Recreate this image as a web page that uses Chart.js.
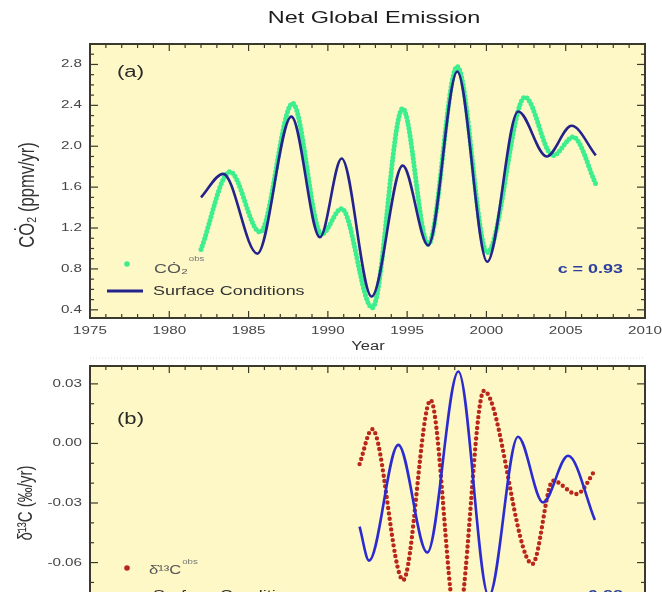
<!DOCTYPE html>
<html>
<head>
<meta charset="utf-8">
<title>Net Global Emission</title>
<script src="https://cdn.jsdelivr.net/npm/chart.js@4/dist/chart.umd.min.js"></script>
<style>
  html, body { margin: 0; padding: 0; background: #fff; }
  body { width: 662px; height: 592px; overflow: hidden; position: relative; }
  canvas { position: absolute; left: 0; }
  #panelA { top: 0; }
  #panelB { top: 352px; }
</style>
</head>
<body>
<canvas id="panelA" width="662" height="352"></canvas>
<canvas id="panelB" width="662" height="340"></canvas>
<script>
'use strict';

/* ─── Data (turning points + ends) ─── */
const xTicks = [1975, 1980, 1985, 1990, 1995, 2000, 2005, 2010];

// (a) CO2 growth rate, ppmv/yr
const yTicksA   = [0.4, 0.8, 1.2, 1.6, 2.0, 2.4, 2.8];
const yearsAObs = [1982.0, 1983.83, 1985.72, 1987.78, 1989.6, 1990.87, 1992.8, 1994.72, 1996.33, 1998.16, 2000.05, 2002.43, 2004.2, 2005.47, 2006.9];
const co2Obs    = [0.99, 1.75, 1.16, 2.42, 1.14, 1.39, 0.42, 2.37, 1.04, 2.78, 0.96, 2.48, 1.91, 2.09, 1.63];
const yearsASfc = [1982.0, 1983.4, 1985.55, 1987.7, 1989.5, 1990.87, 1992.76, 1994.72, 1996.33, 1998.16, 2000.05, 2002.0, 2003.8, 2005.37, 2006.9];
const co2Sfc    = [1.50, 1.73, 0.95, 2.29, 1.11, 1.88, 0.53, 1.81, 1.03, 2.73, 0.87, 2.34, 1.90, 2.20, 1.91];

// (b) d13C growth rate, permil/yr
const yTicksB   = [-0.09, -0.06, -0.03, 0.00, 0.03];
const yearsBObs = [1992.0, 1992.8, 1994.75, 1996.48, 1998.15, 1999.84, 2002.9, 2004.2, 2005.68, 2006.9];
const d13Obs    = [-0.0104, 0.0072, -0.0688, 0.0218, -0.092, 0.0265, -0.0607, -0.0188, -0.0255, -0.0129];
const yearsBSfc = [1992.0, 1992.6, 1994.44, 1996.27, 1998.23, 2000.15, 2001.99, 2003.57, 2005.15, 2006.84];
const d13Sfc    = [-0.0419, -0.059, -0.0007, -0.0549, 0.0362, -0.077, 0.0034, -0.0297, -0.0062, -0.0386];

/* ─── Styling ─── */
const FONT      = '"Liberation Sans", Arial, Helvetica, sans-serif';
const STRETCH   = 1.38;          // source figure is stretched sideways
const PLOT_BG   = '#fef7c6';
const INK       = '#333333';
const TICK_INK  = '#454545';
const GREEN     = '#3cee8e';
const NAVY      = '#24238c';
const BLUE      = '#2b2bd0';
const RED       = '#b8271a';

const toPoints = (xs, ys) => xs.map((x, i) => ({ x, y: ys[i] }));

/* ─── Text helpers (horizontally stretched like the source) ─── */
function textAt(ctx, str, x, y, size, color, align, weight, sx) {
  sx = sx || STRETCH;
  ctx.save();
  ctx.translate(x, y);
  ctx.scale(sx, 1);
  ctx.font = (weight || 'normal') + ' ' + size + 'px ' + FONT;
  ctx.fillStyle = color;
  ctx.textAlign = align || 'left';
  ctx.textBaseline = 'middle';
  ctx.fillText(str, 0, 0);
  const w = ctx.measureText(str).width * sx;
  ctx.restore();
  return w;
}

function rotatedText(ctx, str, x, y, size) {
  ctx.save();
  ctx.translate(x, y);
  ctx.scale(STRETCH, 1);
  ctx.rotate(-Math.PI / 2);
  ctx.font = size + 'px ' + FONT;
  ctx.fillStyle = INK;
  ctx.textAlign = 'center';
  ctx.textBaseline = 'middle';
  ctx.fillText(str, 0, 0);
  ctx.restore();
}

/* ─── Frame, inward ticks, tick labels, background ─── */
function framePlugin(yTicks, yMinor, yMajor, fmt, drawText) {
  return {
    id: 'frame',
    beforeDraw(chart) {
      const { ctx, chartArea: a } = chart;
      ctx.save();
      ctx.fillStyle = PLOT_BG;
      ctx.fillRect(a.left, a.top, a.right - a.left, a.bottom - a.top);
      ctx.restore();
    },
    afterDraw(chart) {
      const { ctx, chartArea: a, scales: { x, y } } = chart;
      ctx.save();
      ctx.strokeStyle = '#3a3a2c';
      ctx.lineWidth = 1.2;
      const seg = (x1, y1, x2, y2) => { ctx.beginPath(); ctx.moveTo(x1, y1); ctx.lineTo(x2, y2); ctx.stroke(); };

      for (let yr = x.min; yr <= x.max; yr++) {
        const px = x.getPixelForValue(yr);
        const len = yr % 5 === 0 ? 7 : 4;
        seg(px, a.bottom, px, a.bottom - len);
        seg(px, a.top, px, a.top + len);
      }
      const i0 = Math.ceil(y.min / yMinor - 1e-6);
      for (let i = i0; i * yMinor <= y.max + 1e-9; i++) {
        const v = i * yMinor;
        const py = y.getPixelForValue(v);
        const major = Math.abs(v / yMajor - Math.round(v / yMajor)) < 1e-6;
        const len = major ? 8 : 4;
        seg(a.left, py, a.left + len, py);
        seg(a.right, py, a.right - len, py);
      }
      ctx.lineWidth = 2;
      ctx.strokeRect(a.left, a.top, a.right - a.left, a.bottom - a.top);
      ctx.restore();

      // tick labels placed from the scales
      xTicks.forEach(v => textAt(ctx, String(v), x.getPixelForValue(v), a.bottom + 13, 11, TICK_INK, 'center'));
      yTicks.filter(v => v >= y.min && v <= y.max)
        .forEach(v => textAt(ctx, fmt(v), a.left - 8, y.getPixelForValue(v), 11, TICK_INK, 'right'));

      drawText(ctx, a);
    }
  };
}

function baseOptions(yMin, yMax, top, xHeight) {
  return {
    responsive: false,
    animation: false,
    devicePixelRatio: 1,
    layout: { padding: { left: 0, right: 17, top, bottom: 0 } },
    elements: { point: { radius: 0 } },
    plugins: {
      legend: { display: false },
      tooltip: { enabled: false },
      title: { display: false }
    },
    scales: {
      x: {
        type: 'linear',
        min: 1975,
        max: 2010,
        afterFit: s => { s.height = xHeight; },
        grid: { display: false, drawTicks: false },
        border: { display: false },
        ticks: { display: false }
      },
      y: {
        type: 'linear',
        min: yMin,
        max: yMax,
        afterFit: s => { s.width = 90; },
        grid: { display: false, drawTicks: false },
        border: { display: false },
        ticks: { display: false }
      }
    }
  };
}

/* ─── Panel (a) ─── */
new Chart(document.getElementById('panelA'), {
  type: 'line',
  data: {
    datasets: [
      {
        label: 'Surface Conditions',
        data: toPoints(yearsASfc, co2Sfc),
        borderColor: NAVY,
        borderWidth: 2.6,
        cubicInterpolationMode: 'monotone',
        order: 0
      },
      {
        label: 'CO2 obs',
        data: toPoints(yearsAObs, co2Obs),
        borderColor: GREEN,
        borderWidth: 5,
        borderDash: [0, 3.8],
        borderCapStyle: 'round',
        cubicInterpolationMode: 'monotone',
        order: 1
      }
    ]
  },
  options: baseOptions(0.32, 3.0, 44, 34),
  plugins: [framePlugin(yTicksA, 0.1, 0.4, v => v.toFixed(1), (ctx, a) => {
    textAt(ctx, 'Net Global Emission', 374, 18, 17, '#1c1c1c', 'center');
    textAt(ctx, '(a)', 117, 73, 16, '#2a2a2a');
    rotatedText(ctx, 'CȮ₂ (ppmv/yr)', 28, 195, 16.5);
    textAt(ctx, 'Year', 368, 347, 12, INK, 'center');

    // legend
    ctx.fillStyle = GREEN;
    ctx.beginPath(); ctx.arc(127, 264, 2.8, 0, Math.PI * 2); ctx.fill();
    const w = textAt(ctx, 'CȮ₂', 154, 269, 13, '#555');
    textAt(ctx, 'obs', 155 + w, 259, 7, '#777');
    ctx.strokeStyle = NAVY; ctx.lineWidth = 3;
    ctx.beginPath(); ctx.moveTo(107, 291); ctx.lineTo(143, 291); ctx.stroke();
    textAt(ctx, 'Surface Conditions', 153, 291, 13, INK);

    textAt(ctx, 'c = 0.93', 623, 269, 13, '#2b3f9e', 'right', 'bold');
  })]
});

/* ─── Panel (b) ─── */
new Chart(document.getElementById('panelB'), {
  type: 'line',
  data: {
    datasets: [
      {
        label: 'Surface Conditions',
        data: toPoints(yearsBSfc, d13Sfc),
        borderColor: BLUE,
        borderWidth: 2.6,
        cubicInterpolationMode: 'monotone',
        order: 0
      },
      {
        label: 'd13C obs',
        data: toPoints(yearsBObs, d13Obs),
        borderColor: RED,
        borderWidth: 4.4,
        borderDash: [0, 5.4],
        borderCapStyle: 'round',
        cubicInterpolationMode: 'monotone',
        order: 1
      }
    ]
  },
  options: baseOptions(-0.1, 0.039, 14, 50),
  plugins: [framePlugin(yTicksB, 0.01, 0.03, v => v.toFixed(2), (ctx, a) => {
    // faint dotted rule above the panel
    ctx.save();
    ctx.strokeStyle = '#d8d8d8'; ctx.lineWidth = 1; ctx.setLineDash([1, 2]);
    ctx.beginPath(); ctx.moveTo(90, 6); ctx.lineTo(645, 6); ctx.stroke();
    ctx.restore();

    textAt(ctx, '(b)', 117, 68, 16, '#2a2a2a');
    rotatedText(ctx, 'δ̇¹³C (‰/yr)', 26, 151, 15);

    // legend
    ctx.fillStyle = RED;
    ctx.beginPath(); ctx.arc(127, 216, 2.8, 0, Math.PI * 2); ctx.fill();
    const w = textAt(ctx, 'δ̇¹³C', 149, 219, 12, '#555');
    textAt(ctx, 'obs', 150 + w, 210, 7, '#777');
    ctx.strokeStyle = BLUE; ctx.lineWidth = 3;
    ctx.beginPath(); ctx.moveTo(107, 243); ctx.lineTo(143, 243); ctx.stroke();
    textAt(ctx, 'Surface Conditions', 153, 243, 13, INK);

    textAt(ctx, 'c = 0.88', 623, 243, 13, '#2b3f9e', 'right', 'bold');
  })]
});
</script>
</body>
</html>
